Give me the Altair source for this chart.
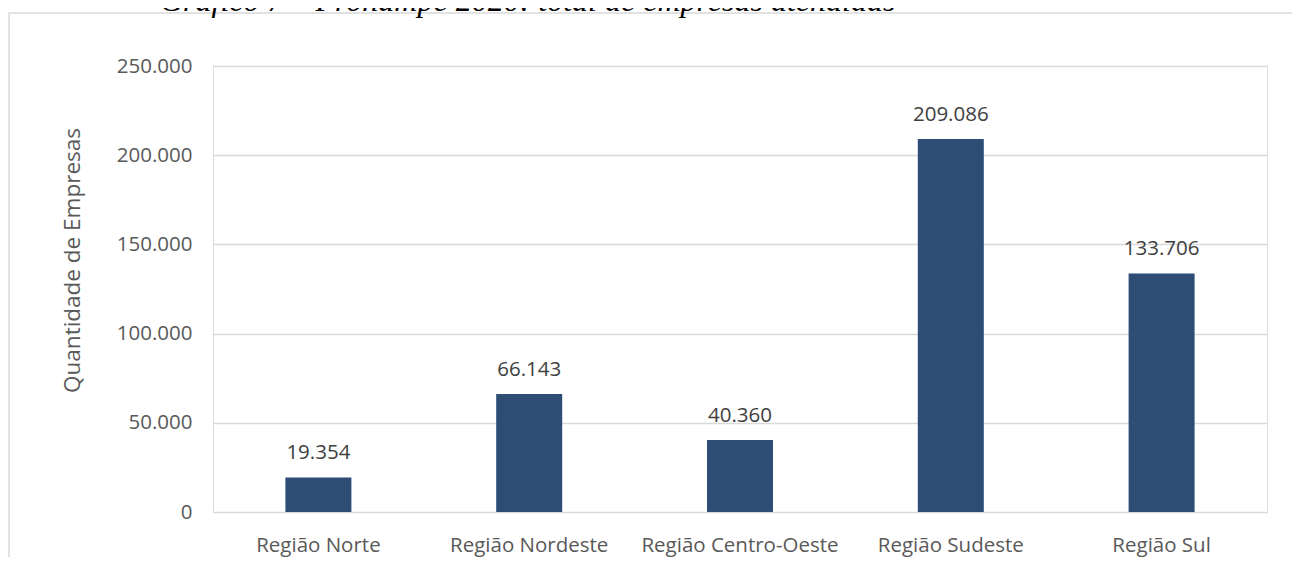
import altair as alt
import pandas as pd

regions = ["Região Norte", "Região Nordeste", "Região Centro-Oeste", "Região Sudeste", "Região Sul"]
values = [19354, 66143, 40360, 209086, 133706]
y_ticks = [0, 50000, 100000, 150000, 200000, 250000]
title_text = "Gráfico 7 – Pronampe 2020: total de empresas atendidas"
y_title = "Quantidade de Empresas"

df = pd.DataFrame({"regiao": regions, "qtd": values})

FONT = "Open Sans"
GRAY = "#595959"
BAR = "#2D4D74"

base = alt.Chart(df)

x_enc = alt.X(
    "regiao:N",
    sort=regions,
    title=None,
    scale=alt.Scale(paddingInner=0, paddingOuter=0),
    axis=alt.Axis(labelAngle=0, labelFont=FONT, labelFontSize=20.5, labelColor=GRAY,
                  labelPadding=23, labelLimit=400, ticks=False, domain=False, grid=False),
)
y_enc = alt.Y(
    "qtd:Q",
    title=y_title,
    scale=alt.Scale(domain=[0, 250000], nice=False),
    axis=alt.Axis(values=y_ticks, format=",d", labelFont=FONT, labelFontSize=20.5,
                  labelColor=GRAY, labelPadding=21, ticks=False, domain=False,
                  grid=True, gridColor="#D9D9D9", gridWidth=1.5,
                  titleFont=FONT, titleFontSize=22.5, titleFontWeight="normal",
                  titleColor=GRAY, titleAngle=270, titleX=-141, titleY=194,
                  titleAlign="center", titleBaseline="middle"),
)

bars = base.mark_bar(size=66, color=BAR).encode(x=x_enc, y=y_enc)

labels = base.mark_text(baseline="alphabetic", dy=-18, font=FONT, fontSize=20.5,
                        color="#404040").encode(
    x=alt.X("regiao:N", sort=regions),
    y="qtd:Q",
    text=alt.Text("qtd:Q", format=",d"),
)

frame_df = pd.DataFrame({"k": [0]})
border = alt.Chart(frame_df).mark_rect(fill="transparent", stroke="#D9D9D9",
                                        strokeWidth=1.5).encode(
    x=alt.value(-204), x2=alt.value(1080), y=alt.value(-53), y2=alt.value(600)
)

title = alt.Chart(frame_df).mark_text(align="left", baseline="alphabetic",
                                      font="Liberation Serif", fontStyle="italic",
                                      fontSize=32, color="#000000").encode(
    x=alt.value(-53), y=alt.value(-55), text=alt.value(title_text)
)

chart = alt.layer(border, bars, labels, title).properties(
    width=1054, height=446,
    autosize=alt.AutoSizeParams(type="none"),
    padding={"left": 205, "top": 58, "right": 25, "bottom": 45},
).configure_view(stroke=None).configure(
    locale=alt.Locale(number=alt.NumberLocale(decimal=",", thousands=".", grouping=[3],
                                              currency=["R$", ""]))
)

chart.save("out.html", embed_options={"renderer": "svg", "actions": False})
